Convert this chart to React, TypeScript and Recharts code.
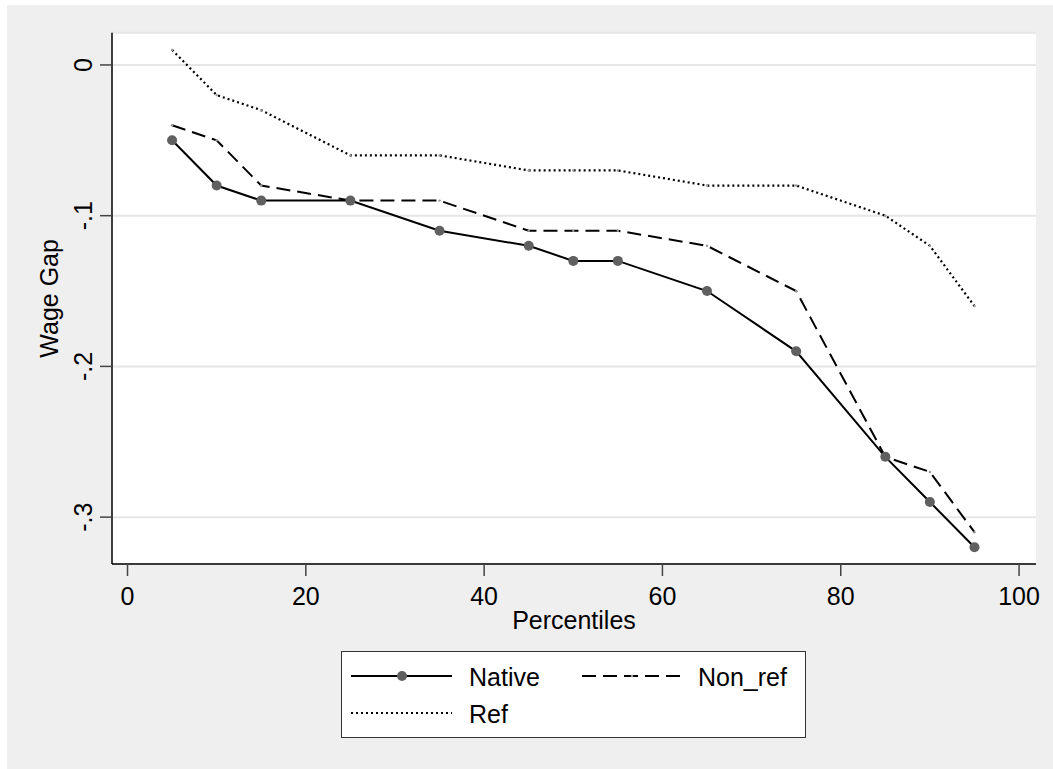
import React from "react";
import { LineChart, Line, XAxis, YAxis, CartesianGrid, Legend, Label } from "recharts";

const percentiles = [5, 10, 15, 25, 35, 45, 50, 55, 65, 75, 85, 90, 95];
const native = [-0.05, -0.08, -0.09, -0.09, -0.11, -0.12, -0.13, -0.13, -0.15, -0.19, -0.26, -0.29, -0.32];
const nonRef = [-0.04, -0.05, -0.08, -0.09, -0.09, -0.11, -0.11, -0.11, -0.12, -0.15, -0.26, -0.27, -0.31];
const ref = [0.01, -0.02, -0.03, -0.06, -0.06, -0.07, -0.07, -0.07, -0.08, -0.08, -0.1, -0.12, -0.16];

const xTicks = [0, 20, 40, 60, 80, 100];
const yTicks = [0, -0.1, -0.2, -0.3];
const yTickLabels = ["0", "-.1", "-.2", "-.3"];

const data = percentiles.map((p, i) => ({
  p,
  native: native[i],
  nonRef: nonRef[i],
  ref: ref[i],
}));

const FONT = "'Liberation Sans', Arial, sans-serif";
const FS = 25;

const XTick = ({ x, y, payload }: any) => (
  <text x={x} y={y + 27} textAnchor="middle" fontSize={FS} fontFamily={FONT} fill="#000">
    {payload.value}
  </text>
);

const YTick = ({ x, y, payload }: any) => {
  const idx = yTicks.findIndex((t) => Math.abs(t - payload.value) < 1e-6);
  return (
    <text
      transform={`translate(${x - 6}, ${y}) rotate(-90)`}
      textAnchor="middle"
      fontSize={FS}
      fontFamily={FONT}
      fill="#000"
    >
      {idx >= 0 ? yTickLabels[idx] : payload.value}
    </text>
  );
};

const LegendBox = () => (
  <div
    style={{
      width: 465,
      height: 87,
      boxSizing: "border-box",
      background: "#fff",
      border: "1px solid #333",
    }}
  >
    <svg width={463} height={85} style={{ display: "block" }}>
      <g fontFamily={FONT} fontSize={FS} fill="#000">
        <line x1={9} y1={24} x2={110} y2={24} stroke="#000" strokeWidth={2} />
        <circle cx={60} cy={24} r={5} fill="#606060" />
        <text x={127} y={34}>Native</text>
        <line x1={240} y1={24} x2={341} y2={24} stroke="#000" strokeWidth={2} strokeDasharray="14 7" />
        <circle cx={290} cy={24} r={1.3} fill="#999" />
        <text x={356} y={34}>Non_ref</text>
        <line x1={9} y1={61} x2={110} y2={61} stroke="#000" strokeWidth={2.2} strokeDasharray="2 3" />
        <text x={127} y={71}>Ref</text>
      </g>
    </svg>
  </div>
);

export default function App() {
  return (
    <div style={{ position: "absolute", left: 0, top: 0, width: 1053, height: 769, background: "#fff" }}>
      <div style={{ position: "absolute", left: 7, top: 5 }}>
        <LineChart
          width={1046}
          height={764}
          data={data}
          margin={{ top: 27.7, right: 17, left: 0, bottom: 145 }}
          style={{ background: "#efefef" }}
        >
          <CartesianGrid vertical={false} fill="#fff" stroke="#e6e6e6" strokeWidth={2} />
          <XAxis
            dataKey="p"
            type="number"
            domain={[-1.74, 101.9]}
            ticks={xTicks}
            allowDataOverflow
            height={60}
            tickSize={12}
            axisLine={{ stroke: "#000", strokeWidth: 1.5 }}
            tickLine={{ stroke: "#444", strokeWidth: 1.5 }}
            tick={<XTick />}
          >
            <Label
              content={({ viewBox }: any) => (
                <text
                  x={viewBox.x + viewBox.width / 2}
                  y={624}
                  textAnchor="middle"
                  fontSize={FS}
                  fontFamily={FONT}
                  fill="#000"
                >
                  Percentiles
                </text>
              )}
            />
          </XAxis>
          <YAxis
            type="number"
            domain={[-0.3311, 0.0214]}
            ticks={yTicks}
            allowDataOverflow
            width={105}
            tickSize={12}
            axisLine={{ stroke: "#000", strokeWidth: 1.5 }}
            tickLine={{ stroke: "#444", strokeWidth: 1.5 }}
            tick={<YTick />}
          >
            <Label
              content={({ viewBox }: any) => (
                <text
                  transform={`translate(51, ${viewBox.y + viewBox.height / 2}) rotate(-90)`}
                  textAnchor="middle"
                  fontSize={FS}
                  fontFamily={FONT}
                  fill="#000"
                >
                  Wage Gap
                </text>
              )}
            />
          </YAxis>
          <Legend
            layout="vertical"
            align="center"
            verticalAlign="middle"
            content={<LegendBox />}
            wrapperStyle={{ position: "absolute", left: 334, top: 646, width: 465, height: 87 }}
          />
          <Line
            dataKey="ref"
            name="Ref"
            stroke="#000"
            strokeWidth={2.2}
            strokeDasharray="2 3"
            dot={{ r: 1.2, fill: "#999", stroke: "none" }}
            activeDot={false}
            isAnimationActive={false}
          />
          <Line
            dataKey="nonRef"
            name="Non_ref"
            stroke="#000"
            strokeWidth={2}
            strokeDasharray="14 7"
            dot={{ r: 1.2, fill: "#999", stroke: "none" }}
            activeDot={false}
            isAnimationActive={false}
          />
          <Line
            dataKey="native"
            name="Native"
            stroke="#000"
            strokeWidth={2}
            dot={{ r: 5, fill: "#606060", stroke: "none" }}
            activeDot={false}
            isAnimationActive={false}
          />
        </LineChart>
      </div>
    </div>
  );
}
